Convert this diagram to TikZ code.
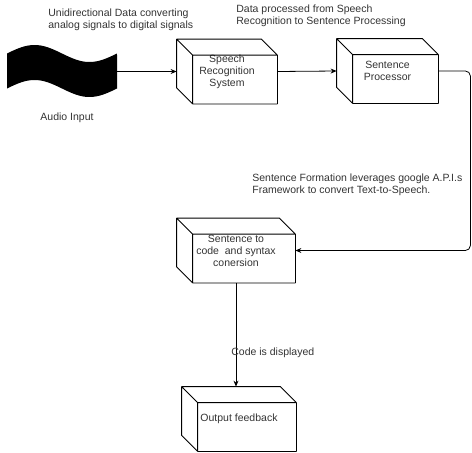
\documentclass[tikz,border=0pt]{standalone}
\usepackage{fontspec}
\setmainfont{Liberation Sans}
\usetikzlibrary{arrows.meta}

\begin{document}
\begin{tikzpicture}[x=1pt,y=-1pt,line join=round,>={Stealth[length=6pt,width=5pt]},line width=0.8pt]
	\tikzset{every node/.style={font=\fontsize{10.5}{12}\selectfont,text=black!80}}
	\tikzset{cube/.style={minimum width=#1,minimum height=64pt,inner sep=0pt,align=center},
		lbl/.style={inner sep=0pt,anchor=west,align=left}}
	\useasboundingbox (0,0) rectangle (472,453);
	% audio wave
	\fill plot[domain=7:117,samples=60,smooth,variable=\x] (\x,{53.5-8.5*sin(3.2727*(\x-7))})
		-- plot[domain=117:7,samples=60,smooth,variable=\x] (\x,{88.5-8.5*sin(3.2727*(\x-7))}) -- cycle;
	\node[minimum width=110pt,minimum height=53pt,inner sep=0pt] (audio) at (62,71.5) {};
	\node (audiolbl) at (67,118) {Audio Input};
	% boxes
	\node[cube=100pt] (sr) at (227,71.5) {Speech\\Recognition\\System};
	\node[cube=101pt] (sp) at (387.5,71) {Sentence\\Processor};
	\node[cube=118pt] (syn) at (236,250.5) {Sentence to\\code\ \ and syntax\\conersion};
	\node[cube=114pt] (out) at (239,419) {Output feedback};
	\foreach \c in {sr,sp,syn,out}
		\draw ([xshift=16pt]\c.south west) rectangle ([yshift=-16pt]\c.north east)
			([xshift=16pt]\c.south west) -- ([yshift=16pt]\c.south west) -- (\c.north west)
			-- ([xshift=-16pt]\c.north east) -- ([yshift=-16pt]\c.north east)
			(\c.north west) -- ([shift={(16pt,-16pt)}]\c.north west);
	% connectors
	\draw[->] (audio.east) -- (sr.west);
	\draw[->] (sr.east) -- (sp.west);
	\draw[->,rounded corners=5pt] (sp.east) -- ++(32,0) |- (syn.east);
	\draw[->] (syn.south) -- (syn.south |- out.north);
	% labels
	\node[lbl] (lbla) at (48,20) {Unidirectional Data converting\\analog signals to digital signals};
	\node[lbl] (lblb) at (236,16) {Data processed from Speech\\Recognition to Sentence Processing};
	\node[lbl] (lblc) at (252,185) {Sentence Formation leverages google A.P.I.s\\Framework to convert Text-to-Speech.};
	\node[lbl] (lbld) at (231,353) {Code is displayed};
\end{tikzpicture}
\end{document}
